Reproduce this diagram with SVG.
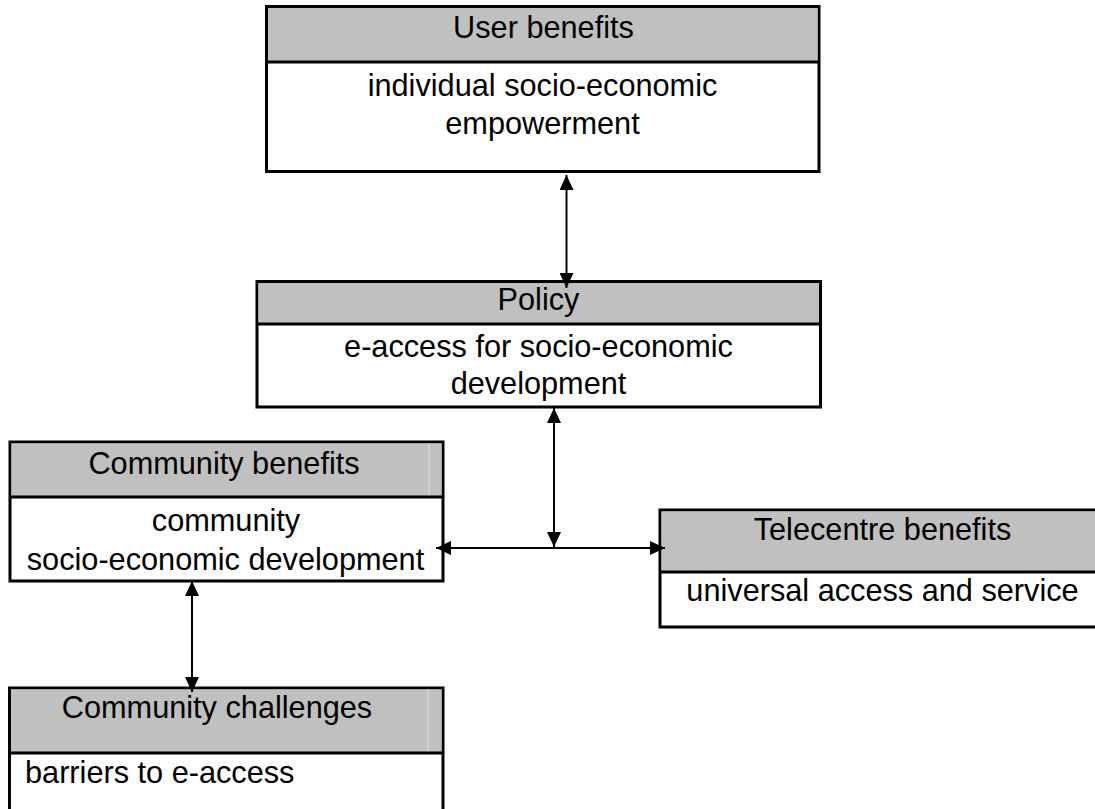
<svg xmlns="http://www.w3.org/2000/svg" width="1095" height="809" viewBox="0 0 1095 809">
  <style>
    .box { fill: #ffffff; stroke: #000000; stroke-width: 3; }
    .head { fill: #c0c0c0; stroke: none; }
    .div { stroke: #000000; stroke-width: 3; }
    .faint { stroke: #dadada; stroke-width: 1.2; }
    .t { font-family: "Liberation Sans", Arial, Helvetica, sans-serif; font-size: 30.7px; fill: #000000; }
    .c { text-anchor: middle; }
    .conn { stroke: #000000; stroke-width: 2; fill: none; marker-start: url(#ah); marker-end: url(#ah); }
  </style>
  <defs>
    <marker id="ah" viewBox="0 0 15 14" markerUnits="userSpaceOnUse" markerWidth="15" markerHeight="14" refX="15" refY="7" orient="auto-start-reverse">
      <path d="M0,0 L15,7 L0,14 z" fill="#000000"/>
    </marker>
  </defs>
  <rect width="1095" height="809" fill="#ffffff"/>

  <g id="user-benefits">
    <rect class="box" x="266.5" y="6.5" width="552.5" height="165"/>
    <rect class="head" x="268" y="8" width="549.5" height="54"/>
    <line class="div" x1="266.5" y1="62" x2="819" y2="62"/>
    <text class="t c" x="543.5" y="38">User benefits</text>
    <text class="t c" x="542.5" y="96">individual socio-economic</text>
    <text class="t c" x="542.5" y="134">empowerment</text>
  </g>

  <g id="policy">
    <rect class="box" x="257" y="281.5" width="563.5" height="125.5"/>
    <rect class="head" x="258.5" y="283" width="560.5" height="41"/>
    <line class="div" x1="257" y1="324" x2="820.5" y2="324"/>
    <text class="t c" x="538.5" y="310">Policy</text>
    <text class="t c" x="538.5" y="357">e-access for socio-economic</text>
    <text class="t c" x="538.5" y="394">development</text>
  </g>

  <g id="community-benefits">
    <rect class="box" x="10" y="442" width="433" height="139"/>
    <rect class="head" x="11.5" y="443.5" width="430" height="53.5"/>
    <line class="faint" x1="429" y1="443.5" x2="429" y2="496"/>
    <line class="div" x1="10" y1="497" x2="443" y2="497"/>
    <text class="t c" x="224" y="474">Community benefits</text>
    <text class="t c" x="226" y="531">community</text>
    <text class="t c" x="225.5" y="570">socio-economic development</text>
  </g>

  <g id="telecentre-benefits">
    <rect class="box" x="660" y="510" width="445" height="117"/>
    <rect class="head" x="661.5" y="511.5" width="442" height="60.5"/>
    <line class="div" x1="660" y1="572" x2="1105" y2="572"/>
    <text class="t c" x="882.5" y="540">Telecentre benefits</text>
    <text class="t c" x="882.5" y="601">universal access and service</text>
  </g>

  <g id="community-challenges">
    <rect class="box" x="9.5" y="688" width="433.5" height="140"/>
    <rect class="head" x="11" y="689.5" width="430.5" height="63.5"/>
    <line class="faint" x1="428" y1="689.5" x2="428" y2="752"/>
    <line class="div" x1="9.5" y1="753" x2="443" y2="753"/>
    <text class="t c" x="217" y="718">Community challenges</text>
    <text class="t" x="25" y="783">barriers to e-access</text>
  </g>

  <g id="connectors">
    <line class="conn" x1="566.5" y1="175" x2="566.5" y2="288"/>
    <line class="conn" x1="554" y1="408" x2="554" y2="547"/>
    <line class="conn" x1="436" y1="548" x2="665" y2="548"/>
    <line class="conn" x1="192" y1="581" x2="192" y2="692"/>
  </g>
</svg>
